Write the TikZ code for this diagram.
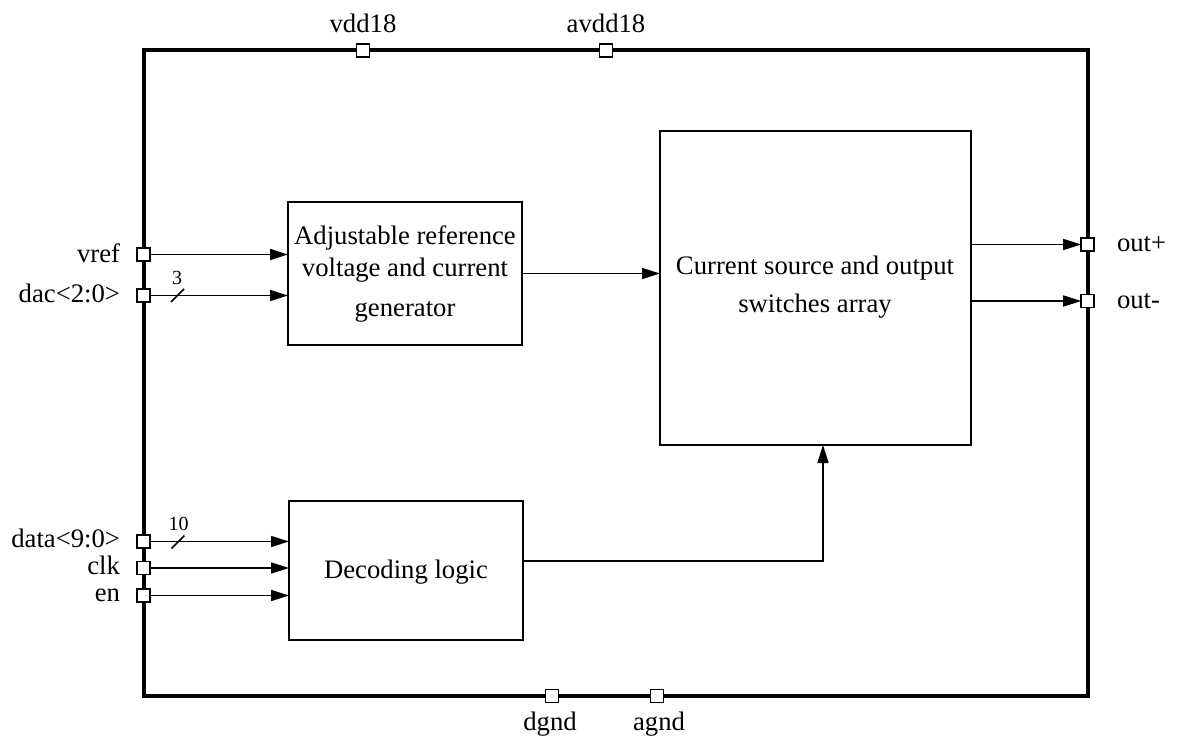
\documentclass[tikz,border=0pt]{standalone}
\usepackage{fontspec}
\setmainfont{Liberation Serif}
\usetikzlibrary{arrows.meta}
\begin{document}
\begin{tikzpicture}[x=0.5pt,y=-0.5pt,
  every node/.style={inner sep=0pt,outer sep=0pt},
  lbl/.style={font=\fontsize{13.35}{16}\selectfont},
  small/.style={font=\fontsize{10}{12}\selectfont},
  block/.style={draw,line width=0.85pt,fill=white},
  pin/.style={draw,line width=0.75pt,fill=white,minimum size=6.5pt},
  sig/.style={line width=0.8pt,-{Triangle[length=9pt,width=5.5pt]}},
  wire/.style={line width=0.8pt},
  frame/.style={line width=2pt}]
\useasboundingbox (0,0) rectangle (1178,743);
% chip frame
\draw[frame] (143.5,50.5) rectangle (1087.7,696);
% blocks
\node[block,minimum width=117pt,minimum height=71.5pt] (ref) at (405,273.5) {};
\node[block,minimum width=155.5pt,minimum height=157pt] (cur) at (815.5,288) {};
\node[block,minimum width=117pt,minimum height=69.5pt] (dec) at (406,570.5) {};
% block texts
\node[lbl,anchor=base] (t1) at (405,245) {Adjustable reference};
\node[lbl,anchor=base] (t2) at (405,277) {voltage and current};
\node[lbl,anchor=base] (t3) at (405,316) {generator};
\node[lbl,anchor=base] (t4) at (815,275) {Current source and output};
\node[lbl,anchor=base] (t5) at (815,313) {switches array};
\node[lbl,anchor=base] (t6) at (406,578) {Decoding logic};
% pins
\node[pin] (pvdd) at (363,50.5) {};
\node[pin] (pavdd) at (606,50.5) {};
\node[pin] (pdgnd) at (552,696) {};
\node[pin] (pagnd) at (657,696) {};
\node[pin] (pvref) at (143.5,254.5) {};
\node[pin] (pdac) at (143.5,295.5) {};
\node[pin] (pdata) at (143.5,541.5) {};
\node[pin] (pclk) at (143.5,568) {};
\node[pin] (pen) at (143.5,595.5) {};
\node[pin] (pop) at (1087.7,244.5) {};
\node[pin] (pom) at (1087.7,301) {};
% pin labels
\node[lbl,anchor=base] (lvdd) at (363,33) {vdd18};
\node[lbl,anchor=base] (lavdd) at (606,33) {avdd18};
\node[lbl,anchor=base] (ldgnd) at (550,730) {dgnd};
\node[lbl,anchor=base] (lagnd) at (659,730) {agnd};
\node[lbl,anchor=base east] (lvref) at (120,263) {vref};
\node[lbl,anchor=base east] (ldac) at (120,302) {dac<2:0>};
\node[lbl,anchor=base east] (ldata) at (120,547) {data<9:0>};
\node[lbl,anchor=base east] (lclk) at (120,574) {clk};
\node[lbl,anchor=base east] (len) at (120,601) {en};
\node[lbl,anchor=base west] (lop) at (1117,252) {out+};
\node[lbl,anchor=base west] (lom) at (1117,308) {out-};
% signals
\draw[sig] (pvref.east) -- (pvref.east -| ref.west);
\draw[sig] (pdac.east) -- (pdac.east -| ref.west);
\draw[sig] (pdata.east) -- (pdata.east -| dec.west);
\draw[sig] (pclk.east) -- (pclk.east -| dec.west);
\draw[sig] (pen.east) -- (pen.east -| dec.west);
\draw[sig] (ref.east) -- (ref.east -| cur.west);
\draw[sig] (pop.west -| cur.east) -- (pop.west);
\draw[sig] (pom.west -| cur.east) -- (pom.west);
\coordinate (turn) at (823,561);
\draw[sig] (dec.east |- turn) -- (turn) -- (turn |- cur.south);
% bus slashes
\draw[wire] (171,302) -- (184,289);
\node[small,anchor=base] (n3) at (177,285) {3};
\draw[wire] (171.5,548.5) -- (184.5,535.5);
\node[small,anchor=base] (n10) at (178.5,530.5) {10};
\end{tikzpicture}
\end{document}
